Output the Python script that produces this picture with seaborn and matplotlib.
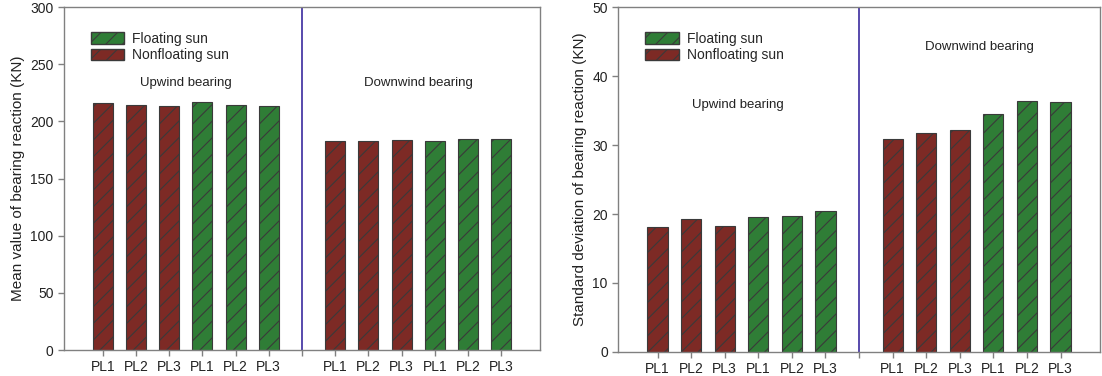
import pandas as pd
import matplotlib.pyplot as plt
import seaborn as sns
from matplotlib.patches import Patch

# bar labels in each half of a panel
cases = ['PL1', 'PL2', 'PL3']

# mean value of bearing reaction (KN)
mean_up_nonfloat = [216.5, 214.0, 213.5]
mean_up_float = [217.0, 214.0, 213.5]
mean_down_nonfloat = [183.0, 183.0, 184.0]
mean_down_float = [182.5, 185.0, 184.5]

# standard deviation of bearing reaction (KN)
std_up_nonfloat = [18.1, 19.3, 18.2]
std_up_float = [19.6, 19.7, 20.5]
std_down_nonfloat = [30.9, 31.8, 32.2]
std_down_float = [34.5, 36.4, 36.3]

RED = '#7d2a25'
GREEN = '#2f7d36'
palette = {'Nonfloating sun': RED, 'Floating sun': GREEN}


def build_frame(up_nf, up_f, down_nf, down_f):
    rows = []
    for side, nf, fl in [('U', up_nf, up_f), ('D', down_nf, down_f)]:
        for grp, vals in [('Nonfloating sun', nf), ('Floating sun', fl)]:
            for c, v in zip(cases, vals):
                rows.append({'slot': f'{side}-{grp[:2]}-{c}', 'group': grp, 'value': v})
    return pd.DataFrame(rows)


def slot_order():
    order = []
    for side in ['U', 'D']:
        for grp in ['No', 'Fl']:
            for c in cases:
                order.append(f'{side}-{grp}-{c}')
        if side == 'U':
            order.append('gap')
    return order


def draw_panel(ax, df, ymax, ystep, ylabel, up_xy, down_xy):
    order = slot_order()
    sns.barplot(data=df, x='slot', y='value', hue='group', order=order,
                palette=palette, dodge=False, width=0.6, ax=ax, saturation=1,
                edgecolor='#3a3a3a', linewidth=0.8, legend=False)
    for p in ax.patches:
        p.set_hatch('//')
    ax.set_xticks(range(len(order)))
    ax.set_xticklabels(['' if s == 'gap' else s.split('-')[-1] for s in order])
    ax.set_xlim(-1.17, len(order) - 1 + 1.17)
    ax.set_ylim(0, ymax)
    ax.set_yticks(range(0, ymax + 1, ystep))
    ax.axvline(6, color='#3b2b9e', lw=1.2)
    ax.set_xlabel('')
    ax.set_ylabel(ylabel, fontsize=11, color='#222222')
    for s in ax.spines.values():
        s.set_color('#808080')
        s.set_linewidth(1.0)
    ax.tick_params(bottom=True, left=True, direction='out', colors='#808080',
                   labelcolor='#222222', labelsize=10, length=4, width=1)
    ax.text(*up_xy, 'Upwind bearing', ha='center', va='center', fontsize=9.5, color='#222222')
    ax.text(*down_xy, 'Downwind bearing', ha='center', va='center', fontsize=9.5, color='#222222')
    handles = [Patch(facecolor=GREEN, edgecolor='#3a3a3a', hatch='//', label='Floating sun'),
               Patch(facecolor=RED, edgecolor='#3a3a3a', hatch='//', label='Nonfloating sun')]
    ax.legend(handles=handles, loc='upper left', bbox_to_anchor=(0.03, 0.965),
              frameon=False, fontsize=10, handlelength=2.4, handleheight=0.9,
              labelspacing=0.2, handletextpad=0.6)


sns.set_style('white')
plt.rcParams['font.family'] = ['Liberation Sans', 'DejaVu Sans']
plt.rcParams['hatch.color'] = '#1a1a1a'
plt.rcParams['hatch.linewidth'] = 0.8

fig = plt.figure(figsize=(11.02, 3.76), dpi=100)
ax1 = fig.add_axes([0.058, 0.069, 0.432, 0.912])
ax2 = fig.add_axes([0.561, 0.064, 0.437, 0.917])

draw_panel(ax1, build_frame(mean_up_nonfloat, mean_up_float, mean_down_nonfloat, mean_down_float),
           300, 50, 'Mean value of bearing reaction (KN)', (2.5, 234), (9.5, 234))
draw_panel(ax2, build_frame(std_up_nonfloat, std_up_float, std_down_nonfloat, std_down_float),
           50, 10, 'Standard deviation of bearing reaction (KN)', (2.4, 35.8), (9.6, 44.2))

fig.savefig('out.png', dpi=100)
